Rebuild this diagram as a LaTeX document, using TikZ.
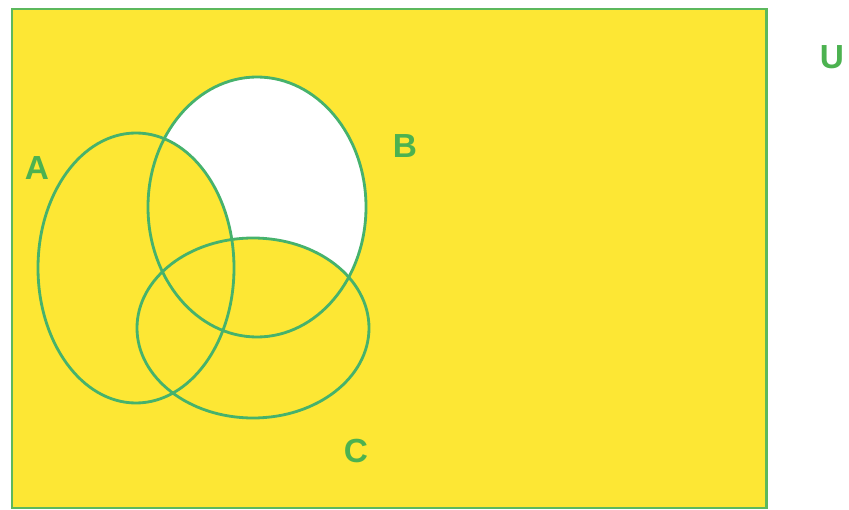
\documentclass[tikz,border=0pt]{standalone}
\usepackage{fontspec}
\setmainfont{Liberation Sans}
\usetikzlibrary{positioning}
\definecolor{setyellow}{RGB}{253,231,52}
\definecolor{ringgreen}{RGB}{70,178,108}
\definecolor{framegreen}{RGB}{92,184,92}
\definecolor{labelgreen}{RGB}{76,178,80}
\tikzset{
  ring/.style={draw=ringgreen,line width=1.6pt},
  setlabel/.style={text=labelgreen,font=\fontsize{19}{22}\selectfont\bfseries,inner sep=0pt}
}
\begin{document}
\begin{tikzpicture}[x=0.02cm,y=-0.02cm]
		\useasboundingbox (0,0) rectangle (849,510);
		% universe
		\draw[fill=setyellow,draw=framegreen,line width=1.7pt] (12,9) rectangle (766,508);
		
		% B only is left white
		\fill[white] (257,207) ellipse [x radius=109, y radius=130];
		\fill[setyellow] (136,268) ellipse [x radius=98, y radius=135];
		\fill[setyellow] (253,328) ellipse [x radius=116, y radius=90];
		
		\draw[ring] (136,268) ellipse [x radius=98, y radius=135];
		\draw[ring] (257,207) ellipse [x radius=109, y radius=130];
		\draw[ring] (253,328) ellipse [x radius=116, y radius=90];
		
		\node[setlabel] (lu) at (832,57) {U};
		\node[setlabel] (la) at (37,168) {A};
		\node[setlabel] (lb) at (405,146) {B};
		\node[setlabel] (lc) at (356,451) {C};
		
	\end{tikzpicture}
\end{document}
